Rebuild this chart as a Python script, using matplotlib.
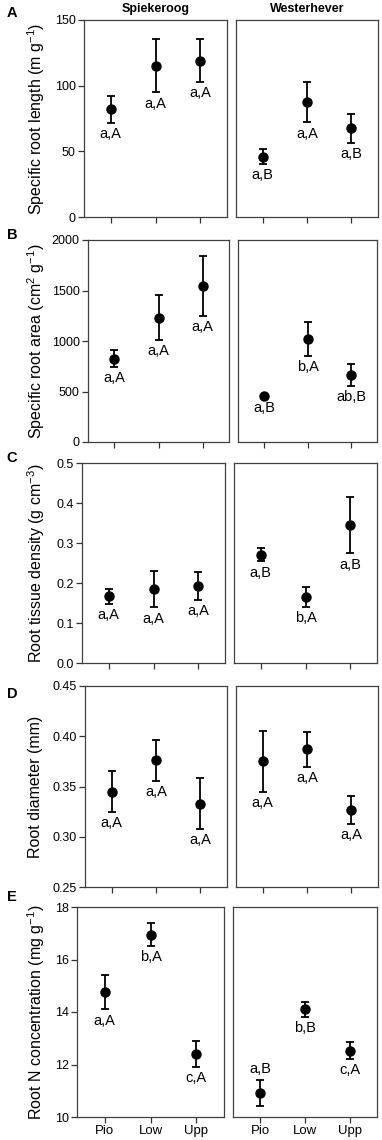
import matplotlib
matplotlib.use("Agg")
import matplotlib.pyplot as plt
from matplotlib.ticker import FormatStrFormatter
import numpy as np

plt.rcParams['font.family'] = ['Liberation Sans', 'DejaVu Sans']
plt.rcParams['mathtext.fontset'] = 'custom'
plt.rcParams['mathtext.rm'] = 'Liberation Sans'
plt.rcParams['mathtext.it'] = 'Liberation Sans:italic'

zones = ["Pio", "Low", "Upp"]
sites = ["Spiekeroog", "Westerhever"]

# valeurs : [Spiekeroog, Westerhever]
srl_mean = [[82, 115, 119], [46, 87.5, 67.5]]
srl_err = [[10.3, 20.2, 16.2], [5.5, 15.5, 11]]
srl_letters = [["a,A", "a,A", "a,A"], ["a,B", "a,A", "a,B"]]

sra_mean = [[825, 1231, 1545], [455, 1020, 665]]
sra_err = [[85, 220, 295], [12, 167, 107]]
sra_letters = [["a,A", "a,A", "a,A"], ["a,B", "b,A", "ab,B"]]

rtd_mean = [[0.167, 0.184, 0.192], [0.271, 0.165, 0.344]]
rtd_err = [[0.019, 0.045, 0.035], [0.017, 0.025, 0.070]]
rtd_letters = [["a,A", "a,A", "a,A"], ["a,B", "b,A", "a,B"]]

diam_mean = [[0.345, 0.376, 0.333], [0.375, 0.387, 0.327]]
diam_err = [[0.020, 0.0205, 0.025], [0.0305, 0.0175, 0.014]]
diam_letters = [["a,A", "a,A", "a,A"], ["a,A", "a,A", "a,A"]]

n_mean = [[14.75, 16.95, 12.4], [10.92, 14.11, 12.53]]
n_err = [[0.65, 0.44, 0.49], [0.50, 0.29, 0.32]]
n_letters = [["a,A", "b,A", "c,A"], ["a,B", "b,B", "c,A"]]
n_above = [[False, False, False], [True, False, False]]

panels = [
    dict(tag="A", mean=srl_mean, err=srl_err, letters=srl_letters,
         ylabel=r"Specific root length (m g$^{-1}$)", ylim=(0, 150),
         yticks=[0, 50, 100, 150], fmt="%d",
         box=[(84, 227), (236, 378), (20, 217)], tagy=13),
    dict(tag="B", mean=sra_mean, err=sra_err, letters=sra_letters,
         ylabel=r"Specific root area (cm$^{2}$ g$^{-1}$)", ylim=(0, 2000),
         yticks=[0, 500, 1000, 1500, 2000], fmt="%d",
         box=[(88, 229), (238, 377), (240, 442)], tagy=235),
    dict(tag="C", mean=rtd_mean, err=rtd_err, letters=rtd_letters,
         ylabel=r"Root tissue density (g cm$^{-3}$)", ylim=(0, 0.5),
         yticks=[0, 0.1, 0.2, 0.3, 0.4, 0.5], fmt="%.1f",
         box=[(82, 225), (234, 377), (463, 663)], tagy=458),
    dict(tag="D", mean=diam_mean, err=diam_err, letters=diam_letters,
         ylabel="Root diameter (mm)", ylim=(0.25, 0.45),
         yticks=[0.25, 0.30, 0.35, 0.40, 0.45], fmt="%.2f",
         box=[(85, 227), (236, 378), (686, 887)], tagy=694),
    dict(tag="E", mean=n_mean, err=n_err, letters=n_letters, above=n_above,
         ylabel=r"Root N concentration (mg g$^{-1}$)", ylim=(10, 18),
         yticks=[10, 12, 14, 16, 18], fmt="%d",
         box=[(77, 224), (233, 377), (907, 1117)], tagy=897),
]

W, H = 382, 1140
fig = plt.figure(figsize=(W / 100, H / 100), dpi=100)
x = np.arange(1, len(zones) + 1)

for i, p in enumerate(panels):
    top, bottom = p["box"][2]
    for j in range(2):
        left, right = p["box"][j]
        ax = fig.add_axes([left / W, 1 - bottom / H, (right - left) / W, (bottom - top) / H])
        m = np.array(p["mean"][j])
        e = np.array(p["err"][j])
        ax.errorbar(x, m, yerr=e, fmt='o', color='black', ms=6.5,
                    capsize=2.6, elinewidth=1.3, capthick=1.3)
        above = p.get("above", [[False] * 3, [False] * 3])[j]
        for k in range(len(zones)):
            if above[k]:
                ax.annotate(p["letters"][j][k], (x[k], m[k] + e[k]), xytext=(0, 3),
                            textcoords='offset points', ha='center', va='bottom', fontsize=10.5)
            else:
                ax.annotate(p["letters"][j][k], (x[k], m[k] - e[k]), xytext=(0, -3),
                            textcoords='offset points', ha='center', va='top', fontsize=10.5)
        ax.set_xlim(0.4, 3.6)
        ax.set_ylim(*p["ylim"])
        ax.set_xticks(x)
        if p["tag"] == "E":
            ax.set_xticklabels(zones)
        else:
            ax.set_xticklabels([])
        for s in ax.spines.values():
            s.set_linewidth(0.9)
            s.set_color('0.25')
        ax.tick_params(direction='out', length=4, width=0.9, labelsize=9, pad=2, color='0.2')
        ax.tick_params(axis='x', labelsize=9.5)
        if j == 0:
            ax.set_yticks(p["yticks"])
            ax.yaxis.set_major_formatter(FormatStrFormatter(p["fmt"]))
        else:
            ax.set_yticks([])
        if i == 0:
            ax.set_title(sites[j], fontsize=9, fontweight='bold', pad=6)
    fig.text(36 / W, 1 - (top + bottom) / 2 / H, p["ylabel"], rotation=90,
             ha='center', va='center', fontsize=11.5)
    fig.text(12 / W, 1 - p["tagy"] / H, p["tag"], ha='center', va='center',
             fontsize=10.5, fontweight='bold')

fig.savefig("out.png", dpi=100)
